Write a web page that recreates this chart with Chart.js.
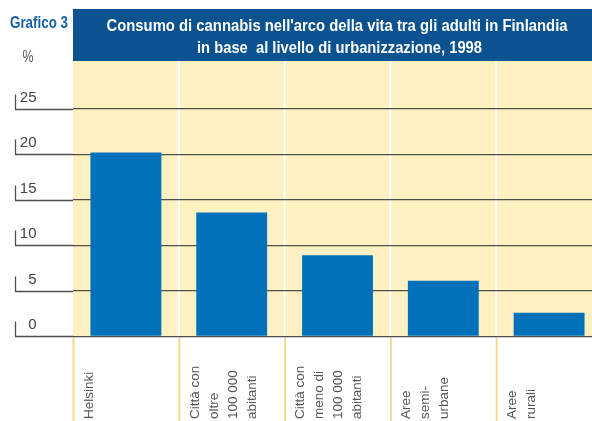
<!DOCTYPE html>
<html>
<head>
<meta charset="utf-8">
<script src="https://cdn.jsdelivr.net/npm/chart.js@4/dist/chart.umd.min.js"></script>
<style>
html,body{margin:0;padding:0;background:#fff;overflow:hidden;width:592px;height:421px;}
#wrap{position:absolute;left:0;top:0;width:602px;height:421px;}
</style>
</head>
<body>
<div id="wrap"><canvas id="c" width="602" height="421"></canvas></div>
<script>
// ---- data ----
const categories = [
  ["Helsinki"],
  ["Città con", "oltre", "100 000", "abitanti"],
  ["Città con", "meno di", "100 000", "abitanti"],
  ["Aree", "semi-", "urbane"],
  ["Aree", "rurali"]
];
const values = [20.2, 13.6, 8.9, 6.1, 2.6];
const yTicks = [0, 5, 10, 15, 20, 25];
const chartLabel = "Grafico 3";
const titleLines = [
  "Consumo di cannabis nell'arco della vita tra gli adulti in Finlandia",
  "in base  al livello di urbanizzazione, 1998"
];
const unitLabel = "%";

// ---- style ----
const BLUE_BAND = '#0b5290';
const BAR_BLUE = '#0071ba';
const CREAM = '#fdf0c1';
const GOLD = '#fdd88c';
const GRID = '#4f4f4f';
const SANS = '"Liberation Sans", Arial, sans-serif';

const decor = {
  id: 'decor',
  beforeDraw(chart) {
    const ctx = chart.ctx, a = chart.chartArea, xs = chart.scales.x;
    const n = categories.length;
    const cw = (a.right - a.left) / n;
    ctx.save();
    ctx.fillStyle = '#fff';
    ctx.fillRect(0, 0, chart.width, chart.height);
    // title band
    ctx.fillStyle = BLUE_BAND;
    ctx.fillRect(a.left, 9, chart.width - a.left, 52);
    // cream plot background
    ctx.fillStyle = CREAM;
    ctx.fillRect(a.left, 61, a.right - a.left, a.bottom - 61);
    // white separators
    ctx.fillStyle = '#fff';
    for (let i = 1; i < n; i++) {
      const bx = xs.getPixelForValue(i) - cw / 2;
      ctx.fillRect(bx - 1, 61, 2, a.bottom - 61);
    }
    // gold lines below axis
    ctx.fillStyle = GOLD;
    for (let i = 0; i < n; i++) {
      const bx = xs.getPixelForValue(i) - cw / 2;
      ctx.fillRect(bx - 0.5, a.bottom + 1, 2, chart.height - a.bottom);
    }
    // texts
    ctx.textBaseline = 'alphabetic';
    ctx.fillStyle = '#1560a8';
    ctx.font = 'bold 17px ' + SANS;
    ctx.textAlign = 'left';
    ctx.fillText(chartLabel, 10, 27.5, 58);
    ctx.fillStyle = '#fff';
    ctx.textAlign = 'center';
    ctx.fillText(titleLines[0], 337, 31, 461);
    ctx.fillText(titleLines[1], 339.5, 53, 285);
    ctx.fillStyle = '#555';
    ctx.font = '17px ' + SANS;
    ctx.fillText(unitLabel, 28, 62, 11);
    ctx.restore();
  },
  beforeDatasetsDraw(chart) {
    const ctx = chart.ctx, a = chart.chartArea, ys = chart.scales.y;
    ctx.save();
    ctx.strokeStyle = GRID;
    ctx.lineWidth = 1.3;
    yTicks.forEach(v => {
      const y = Math.round(ys.getPixelForValue(v)) + 0.5;
      ctx.beginPath();
      ctx.moveTo(15, y);
      ctx.lineTo(a.left, y);
      ctx.moveTo(15.5, y);
      ctx.lineTo(15.5, y - 15);
      ctx.stroke();
    });
    ctx.restore();
  },
  afterDraw(chart) {
    const ctx = chart.ctx, a = chart.chartArea, xs = chart.scales.x;
    const n = categories.length;
    const cw = (a.right - a.left) / n;
    ctx.save();
    ctx.fillStyle = '#555';
    ctx.font = '13.5px ' + SANS;
    ctx.textAlign = 'left';
    ctx.textBaseline = 'middle';
    categories.forEach((lines, i) => {
      const bx = xs.getPixelForValue(i) - cw / 2;
      lines.forEach((t, j) => {
        ctx.save();
        ctx.translate(bx + 16 + j * 19, 419);
        ctx.rotate(-Math.PI / 2);
        ctx.fillText(t, 0, 0);
        ctx.restore();
      });
    });
    ctx.restore();
  }
};

new Chart(document.getElementById('c'), {
  type: 'bar',
  data: {
    labels: categories,
    datasets: [{
      data: values,
      backgroundColor: BAR_BLUE,
      borderWidth: 0,
      categoryPercentage: 1.0,
      barPercentage: 0.67
    }]
  },
  options: {
    responsive: false,
    devicePixelRatio: 1,
    animation: false,
    events: [],
    layout: { padding: { top: 63.2, left: 0, right: 0, bottom: 0 } },
    plugins: { legend: { display: false }, tooltip: { enabled: false }, title: { display: false } },
    scales: {
      x: {
        type: 'category',
        offset: true,
        grid: { display: false },
        border: { display: false },
        ticks: { display: false },
        afterFit(s) { s.height = 84.7; }
      },
      y: {
        min: 0,
        max: 30,
        border: { display: false },
        grid: {
          color: GRID,
          lineWidth: 1.3,
          drawTicks: false
        },
        afterBuildTicks(s) { s.ticks = yTicks.map(v => ({ value: v })); },
        afterFit(s) { s.width = 73; },
        ticks: {
          padding: 36.5,
          labelOffset: -11,
          color: '#444',
          font: { family: SANS, size: 15 },
          callback: v => String(v)
        }
      }
    }
  },
  plugins: [decor]
});
</script>
</body>
</html>
